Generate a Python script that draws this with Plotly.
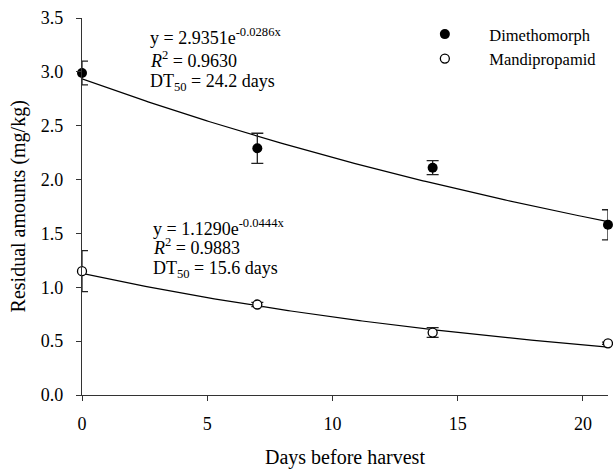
import numpy as np
import plotly.graph_objects as go

days = [0, 7, 14, 21]
dimethomorph = [2.99, 2.29, 2.11, 1.58]
dimethomorph_err = [0.11, 0.14, 0.065, 0.14]
mandipropamid = [1.15, 0.84, 0.58, 0.48]
mandipropamid_err = [0.19, 0.02, 0.045, 0.01]

# fitted first-order decay coefficients printed on the chart
dim_a, dim_k = 2.9351, 0.0286
man_a, man_k = 1.1290, 0.0444

FONT = "Liberation Serif, Times New Roman, serif"
PAD = "\u00a0\u00a0\u00a0"

xfit = np.linspace(0, 21, 200)

fig = go.Figure()
fig.add_trace(go.Scatter(x=xfit, y=dim_a * np.exp(-dim_k * xfit), mode="lines",
                         line=dict(color="black", width=1.2), showlegend=False, hoverinfo="skip"))
fig.add_trace(go.Scatter(x=xfit, y=man_a * np.exp(-man_k * xfit), mode="lines",
                         line=dict(color="black", width=1.2), showlegend=False, hoverinfo="skip"))
fig.add_trace(go.Scatter(x=days, y=dimethomorph, mode="markers", name=PAD + "Dimethomorph",
                         marker=dict(symbol="circle", size=10, color="black"),
                         error_y=dict(type="data", array=dimethomorph_err, color="#222", thickness=1.3, width=6),
                         cliponaxis=False))
fig.add_trace(go.Scatter(x=days, y=mandipropamid, mode="markers", name=PAD + "Mandipropamid",
                         marker=dict(symbol="circle", size=9, color="white", line=dict(color="black", width=1.3)),
                         error_y=dict(type="data", array=mandipropamid_err, color="#222", thickness=1.3, width=6),
                         cliponaxis=False))

def ann(text, x, y, size=18, **kw):
    fig.add_annotation(text=text, x=x, y=y, xref="paper", yref="paper", xanchor=kw.pop("xanchor", "left"),
                       yanchor="middle", showarrow=False,
                       font=dict(family=FONT, size=size, color="black"), **kw)

ann("y = 2.9351e<sup>-0.0286x</sup>", 0.126, 0.950)
ann("<i>R</i><sup>2</sup> = 0.9630", 0.126, 0.891)
ann("DT<sub>50</sub> = 24.2 days", 0.126, 0.830)
ann("y = 1.1290e<sup>-0.0444x</sup>", 0.132, 0.444)
ann("<i>R</i><sup>2</sup> = 0.9883", 0.132, 0.393)
ann("DT<sub>50</sub> = 15.6 days", 0.132, 0.333)

# axis titles
ann("Days before harvest", 0.5, -0.167, size=20, xanchor="center")
ann("Residual amounts (mg/kg)", -0.12, 0.5, size=20, xanchor="center", textangle=-90)

tickfont = dict(family=FONT, size=18, color="black")

fig.update_layout(
    width=613, height=470,
    margin=dict(l=82, r=5, t=18, b=75, autoexpand=False),
    paper_bgcolor="white", plot_bgcolor="white",
    font=dict(family=FONT, size=17, color="black"),
    showlegend=True,
    legend=dict(x=0.629, y=1.003, xanchor="left", yanchor="top", bgcolor="rgba(0,0,0,0)",
                font=dict(family=FONT, size=16.5, color="black"), itemwidth=54, tracegroupgap=0),
    xaxis=dict(range=[0, 21.001], tickmode="linear", tick0=0, dtick=5, showgrid=False, zeroline=False,
               showline=True, linecolor="#333", linewidth=1.2, ticks="outside", ticklen=5,
               tickcolor="#333", ticklabelstandoff=7, tickfont=tickfont, automargin=False),
    yaxis=dict(range=[0, 3.5], tickmode="linear", tick0=0, dtick=0.5, tickformat=".1f", showgrid=False,
               zeroline=False, showline=True, linecolor="#333", linewidth=1.2, ticks="outside", ticklen=5,
               tickcolor="#333", ticklabelstandoff=9, tickfont=tickfont, automargin=False),
)

fig.write_html("out.html", config={"displayModeBar": False},
               post_script="document.body.style.margin='0';document.body.style.overflow='hidden';")
